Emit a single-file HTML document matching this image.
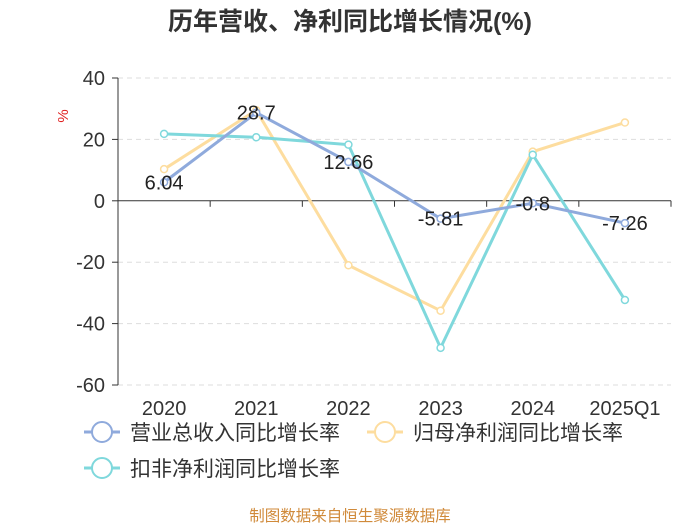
<!DOCTYPE html>
<html><head><meta charset="utf-8"><style>
body{margin:0;background:#fff;font-family:"Liberation Sans","Noto Sans CJK SC",sans-serif}
</style></head><body>
<svg width="700" height="525" xmlns="http://www.w3.org/2000/svg" font-family="Liberation Sans, Noto Sans CJK SC, sans-serif">
<text x="350" y="30" text-anchor="middle" font-size="25" font-weight="bold" fill="#333">历年营收、净利同比增长情况(%)</text>
<text x="68" y="116" font-size="15" fill="#e02020" transform="rotate(-90 68 116)" text-anchor="middle">%</text>
<g id="grid"></g><g id="axes"></g><g id="series"></g><g id="legend"></g>
<text x="350" y="521" text-anchor="middle" font-size="15.5" fill="#d08a3a">制图数据来自恒生聚源数据库</text>
</svg>
<script>
const categories=["2020","2021","2022","2023","2024","2025Q1"];
const revenue=[6.04,28.7,12.66,-5.81,-0.8,-7.26];
const netProfit=[10.3,29.5,-21,-35.8,16,25.5];
const deducted=[21.8,20.7,18.3,-47.9,15,-32.3];
const yTicks=[40,20,0,-20,-40,-60];
const revenueLabels=["6.04","28.7","12.66","-5.81","-0.8","-7.26"];
const NS="http://www.w3.org/2000/svg";
const L=118,R=671,T=78,B=385,ymax=40,ymin=-60;
const bw=(R-L)/categories.length;
const x=i=>L+bw*(i+0.5);
const y=v=>T+(ymax-v)/(ymax-ymin)*(B-T);
function mk(tag,attrs,parent,text){const e=document.createElementNS(NS,tag);for(const k in attrs)e.setAttribute(k,attrs[k]);if(text!==undefined)e.textContent=text;parent.appendChild(e);return e;}
const grid=document.getElementById('grid'),axes=document.getElementById('axes'),series=document.getElementById('series'),legend=document.getElementById('legend');
yTicks.forEach(t=>{
 const yy=y(t);
 if(t!==0){const g=mk('line',{x1:L,x2:R,y1:yy,y2:yy,stroke:'#ddd','stroke-dasharray':'5,4'},grid);
 
 }
 const tk=mk('line',{x1:L-6,x2:L,y1:yy,y2:yy,stroke:'#333'},axes);
 
 
 const lb=mk('text',{x:L-13,y:yy+7,'text-anchor':'end','font-size':20,fill:'#333'},axes,String(t));
 
 
});
const ya=mk('line',{x1:L,x2:L,y1:T,y2:B,stroke:'#333'},axes);


const xa=mk('line',{x1:L,x2:R,y1:y(0),y2:y(0),stroke:'#333'},axes);


for(let i=0;i<=categories.length;i++){const t=mk('line',{x1:L+bw*i,x2:L+bw*i,y1:y(0),y2:y(0)+6,stroke:'#333'},axes);
 
 }
categories.forEach((c,i)=>{const t=mk('text',{x:x(i),y:415,'text-anchor':'middle','font-size':20,fill:'#333'},axes,c);
 
 });
function draw(data,color,name){
 const g=mk('g',{},series);
 
 
 const p=mk('polyline',{points:data.map((v,i)=>x(i)+','+y(v)).join(' '),fill:'none',stroke:color,'stroke-width':3},g);
 
 
 data.forEach((v,i)=>{const c=mk('circle',{cx:x(i),cy:y(v),r:3.5,fill:'#fff',stroke:color,'stroke-width':1.5},g);
  
  });
}
draw(netProfit,'#fddd9f','net-profit-growth');
draw(deducted,'#7fd8dc','deducted-profit-growth');
draw(revenue,'#8faadc','revenue-growth');
revenue.forEach((v,i)=>{const t=mk('text',{x:x(i),y:y(v)+7,'text-anchor':'middle','font-size':20,fill:'#222'},series,revenueLabels[i]);
 
 });
const items=[["营业总收入同比增长率",'#8faadc',84,432],["归母净利润同比增长率",'#fddd9f',367,432],["扣非净利润同比增长率",'#7fd8dc',84,468]];
items.forEach(([n,c,lx,ly])=>{
 const g=mk('g',{},legend);
 
 
 mk('line',{x1:lx,x2:lx+36,y1:ly,y2:ly,stroke:c,'stroke-width':3},g);
 mk('circle',{cx:lx+18,cy:ly,r:10,fill:'#fff',stroke:c,'stroke-width':2},g);
 mk('text',{x:lx+46,y:ly+8,'font-size':21,fill:'#333'},g,n);
});
</script>
</body></html>
